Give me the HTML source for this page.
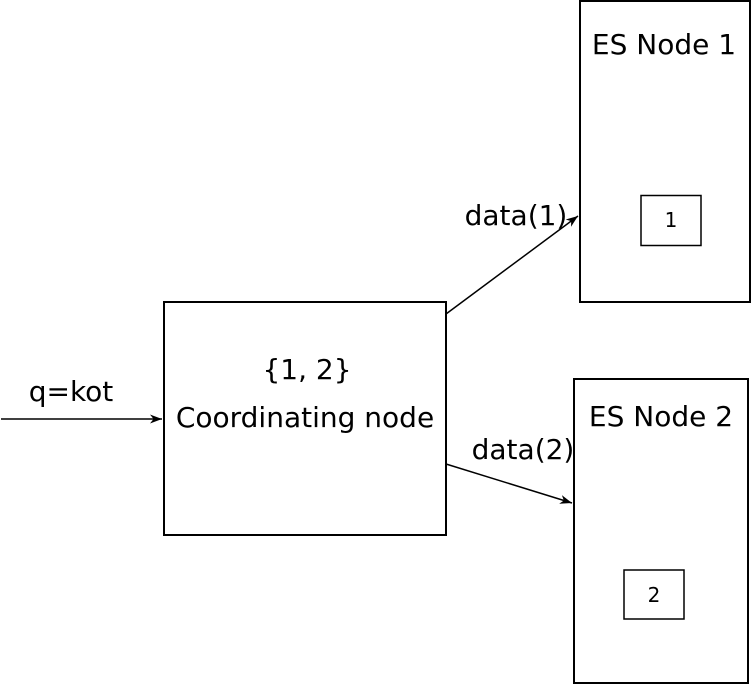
<!DOCTYPE html>
<html><head><meta charset="utf-8"><style>
html,body{margin:0;padding:0;background:#fff;}
svg{display:block;}
text{font-family:"DejaVu Sans","Liberation Sans",sans-serif;fill:#000;}
</style></head><body>
<svg width="751" height="684" viewBox="0 0 751 684" xmlns="http://www.w3.org/2000/svg">
<defs>
<marker id="a" markerWidth="14" markerHeight="12" refX="12" refY="6" orient="auto" markerUnits="userSpaceOnUse">
<path d="M0,1.5 L12,6 L0,10.5 L3.5,6 Z" fill="#000"/>
</marker>
</defs>
<g fill="none" stroke="#000" stroke-width="2">
<rect x="580" y="1" width="170" height="301"/>
<rect x="641" y="195.5" width="60" height="50" stroke-width="1.5"/>
<rect x="574" y="379" width="174" height="304"/>
<rect x="624" y="570" width="60" height="49" stroke-width="1.5"/>
<rect x="164" y="302" width="282" height="233"/>
<line x1="1" y1="419" x2="162" y2="419" stroke-width="1.5" marker-end="url(#a)"/>
<line x1="446" y1="314" x2="578" y2="216" stroke-width="1.5" marker-end="url(#a)"/>
<line x1="446" y1="464" x2="572" y2="503" stroke-width="1.5" marker-end="url(#a)"/>
</g>
<g font-size="28" text-anchor="middle">
<text x="664" y="54">ES Node 1</text>
<text x="661" y="426">ES Node 2</text>
<text x="307" y="379">{1, 2}</text>
<text x="305" y="427">Coordinating node</text>
<text x="71" y="401">q=kot</text>
<text x="516" y="225">data(1)</text>
<text x="523" y="459">data(2)</text>
</g>
<g font-size="20" text-anchor="middle">
<text x="671" y="227">1</text>
<text x="654" y="602">2</text>
</g>
</svg>
</body></html>
